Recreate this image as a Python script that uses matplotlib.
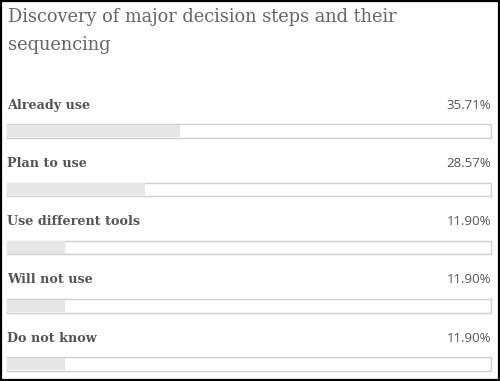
import matplotlib
matplotlib.use("Agg")
import matplotlib.pyplot as plt
from matplotlib.patches import Rectangle

title = "Discovery of major decision steps and their\nsequencing"
categories = ["Already use", "Plan to use", "Use different tools", "Will not use", "Do not know"]
percent = [35.71, 28.57, 11.90, 11.90, 11.90]

W, H = 500, 381
fig = plt.figure(figsize=(W / 100, H / 100), dpi=100)
fig.patch.set_facecolor("white")

# outer frame
fig.patches.append(Rectangle((0.002, 0.003), 0.996, 0.994, transform=fig.transFigure,
                             fill=False, edgecolor="black", linewidth=1.6))

fig.text(8 / W, 1 - 8 / H, title, ha="left", va="top", fontsize=12.8,
         family="DejaVu Serif", color="#666666", linespacing=1.75)

# row geometry in pixels
row_step = 58.25
first_center = 131
ax_top, ax_bot = 101.9, 376
ax = fig.add_axes([7 / W, 1 - ax_bot / H, 484 / W, (ax_bot - ax_top) / H])
ax.set_xlim(0, 100)
ax.set_ylim(4 + (ax_bot - (first_center + 4 * row_step)) / row_step, -0.5)
ax.axis("off")

ypos = list(range(len(categories)))
bar_h = 13.5 / row_step
ax.barh(ypos, [100] * len(ypos), height=bar_h, color="white", edgecolor="#cfcfcf",
        linewidth=1.0, clip_on=False)
ax.barh(ypos, percent, height=bar_h - 0.02, color="#e6e6e6", edgecolor="none")

label_off = 26 / row_step
for y, name, p in zip(ypos, categories, percent):
    ax.text(0, y - label_off, name, ha="left", va="center", fontsize=9.2,
            family="DejaVu Serif", fontweight="bold", color="#555555", clip_on=False)
    ax.text(100, y - label_off, f"{p:.2f}%", ha="right", va="center", fontsize=9.5,
            family="Open Sans", color="#555555", clip_on=False)

fig.savefig("out.png", dpi=100)
